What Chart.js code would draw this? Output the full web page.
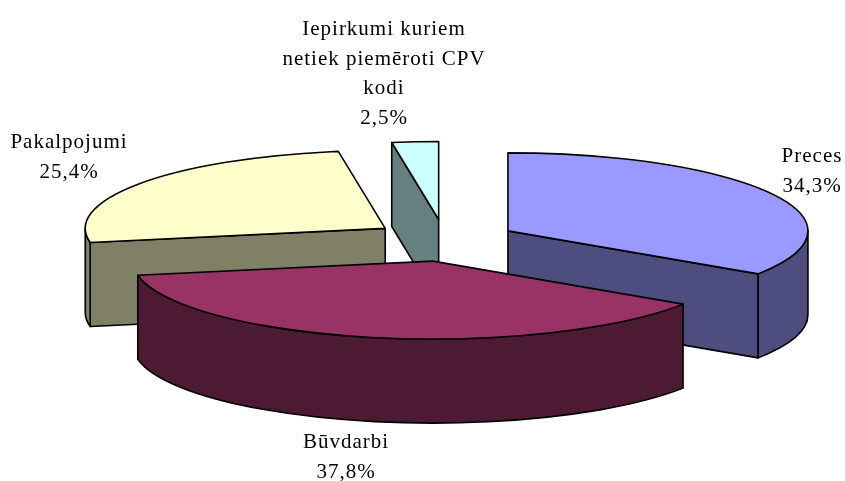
<!DOCTYPE html>
<html><head><meta charset="utf-8">
<style>html,body{margin:0;padding:0;background:#fff}#w{width:845px;height:481px}</style>
<script src="https://cdn.jsdelivr.net/npm/chart.js@4"></script></head>
<body><div id="w"><canvas id="c" width="845" height="481"></canvas></div>
<script>
const categories = ["Preces", "Būvdarbi", "Pakalpojumi", "Iepirkumi kuriem netiek piemēroti CPV kodi"];
const values = [34.3, 37.8, 25.4, 2.5];
const labelLines = [["Preces"], ["Būvdarbi"], ["Pakalpojumi"], ["Iepirkumi kuriem", "netiek piemēroti CPV", "kodi"]];
const topColors = ["#9999FF", "#993366", "#FFFFCC", "#CCFFFF"];
const wallColors = ["#4D4D80", "#4D1A33", "#808066", "#668080"];
const explode = [72.6, 56, 72, 68];
const drawOrder = [2, 3, 0, 1];
const labelAnchors = [[812, 162], [346, 448], [69, 148], [384, 35]];

const TILT = 0.26, OFFSET_TILT = 0.339, DEPTH = 84, LW = 1.6, LINE_H = 29.6;

const pie3d = {
  id: 'pie3d',
  beforeDatasetDraw(chart, args) {
    const ctx = chart.ctx;
    const arcs = chart.getDatasetMeta(args.index).data;
    ctx.save();
    ctx.lineWidth = LW; ctx.strokeStyle = '#000'; ctx.lineJoin = 'round';
    const paint = (fill) => { ctx.fillStyle = fill; ctx.fill(); ctx.stroke(); };
    for (const i of drawOrder) {
      const a = arcs[i], s = a.startAngle, e = a.endAngle, rx = a.outerRadius, ry = rx * TILT;
      const mid = (s + e) / 2;
      const cx = a.x + Math.cos(mid) * explode[i];
      const cy = a.y + Math.sin(mid) * explode[i] * OFFSET_TILT;
      const px = t => cx + rx * Math.cos(t), py = t => cy + ry * Math.sin(t);
      const face = t => {
        ctx.beginPath(); ctx.moveTo(cx, cy); ctx.lineTo(px(t), py(t));
        ctx.lineTo(px(t), py(t) + DEPTH); ctx.lineTo(cx, cy + DEPTH); ctx.closePath();
        paint(wallColors[i]);
      };
      if (-Math.cos(s) > 1e-6) face(s);
      if (Math.cos(e) > 1e-6) face(e);
      const vs = Math.max(s, 0), ve = Math.min(e, Math.PI);
      if (ve > vs) {
        ctx.beginPath();
        ctx.ellipse(cx, cy, rx, ry, 0, vs, ve);
        ctx.lineTo(px(ve), py(ve) + DEPTH);
        ctx.ellipse(cx, cy + DEPTH, rx, ry, 0, ve, vs, true);
        ctx.closePath();
        paint(wallColors[i]);
      }
      ctx.beginPath();
      ctx.moveTo(cx, cy);
      ctx.ellipse(cx, cy, rx, ry, 0, s, e);
      ctx.closePath();
      paint(topColors[i]);
    }
    ctx.restore();
    return false;
  },
  afterDatasetsDraw(chart) {
    const ctx = chart.ctx;
    ctx.save();
    ctx.font = '21px "Liberation Serif"';
    ctx.letterSpacing = '1px';
    ctx.fillStyle = '#000'; ctx.textAlign = 'center'; ctx.textBaseline = 'alphabetic';
    values.forEach((v, i) => {
      const lines = [...labelLines[i], v.toFixed(1).replace('.', ',') + '%'];
      lines.forEach((t, k) => ctx.fillText(t, labelAnchors[i][0], labelAnchors[i][1] + k * LINE_H));
    });
    ctx.restore();
  }
};

new Chart(document.getElementById('c'), {
  type: 'pie',
  data: { labels: categories, datasets: [{ data: values, backgroundColor: topColors, borderColor: '#000', offset: 0, radius: 300 }] },
  options: {
    responsive: false, animation: false,
    layout: { padding: { left: 43, top: 4, right: 0, bottom: 0 } },
    plugins: { legend: { display: false }, tooltip: { enabled: false }, title: { display: false } }
  },
  plugins: [pie3d]
});
</script></body></html>
